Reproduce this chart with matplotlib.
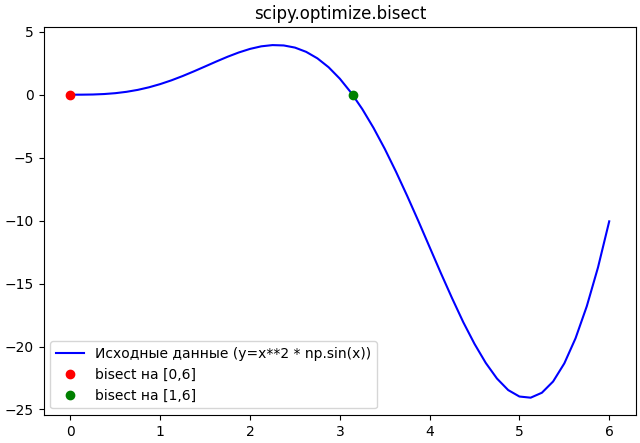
import matplotlib
matplotlib.use("Agg")
import matplotlib.pyplot as plt

# Curve values (x step 0.125)
x_vals = [0.0, 0.125, 0.25, 0.375, 0.5, 0.625, 0.75, 0.875, 1.0, 1.125, 1.25, 1.375,
          1.5, 1.625, 1.75, 1.875, 2.0, 2.125, 2.25, 2.375, 2.5, 2.625, 2.75, 2.875,
          3.0, 3.125, 3.25, 3.375, 3.5, 3.625, 3.75, 3.875, 4.0, 4.125, 4.25, 4.375,
          4.5, 4.625, 4.75, 4.875, 5.0, 5.125, 5.25, 5.375, 5.5, 5.625, 5.75, 5.875, 6.0]
y_vals = [0.0, 0.002, 0.015, 0.052, 0.12, 0.229, 0.383, 0.588, 0.842, 1.142, 1.483, 1.855,
          2.244, 2.637, 3.014, 3.354, 3.637, 3.841, 3.939, 3.911, 3.741, 3.402, 2.887, 2.180,
          1.270, 0.162, -1.143, -2.635, -4.297, -6.112, -8.038, -10.044, -12.109, -14.169,
          -16.166, -18.075, -19.795, -21.305, -22.547, -23.462, -23.973, -24.065, -23.673,
          -22.780, -21.341, -19.345, -16.806, -13.720, -10.059]

root_06 = (0.0, 0.0)
root_16 = (3.1416, 0.0)

fig, ax = plt.subplots(figsize=(6.4, 4.43), dpi=100)
fig.subplots_adjust(left=0.068, right=0.994, top=0.938, bottom=0.0625)
ax.plot(x_vals, y_vals, color="blue", label="Исходные данные (y=x**2 * np.sin(x))")
ax.plot([root_06[0]], [root_06[1]], "o", color="red", label="bisect на [0,6]")
ax.plot([root_16[0]], [root_16[1]], "o", color="green", label="bisect на [1,6]")
ax.set_title("scipy.optimize.bisect")
ax.legend(loc="lower left")
fig.savefig("out.png")
